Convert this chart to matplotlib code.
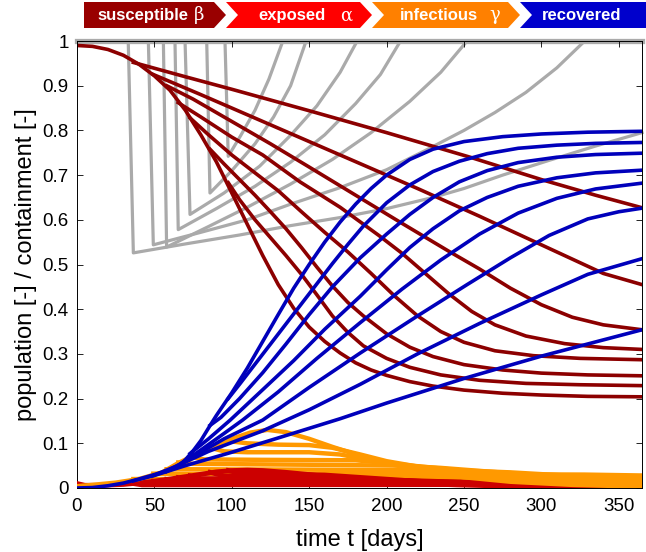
import matplotlib
matplotlib.use('Agg')
import matplotlib.pyplot as plt
from matplotlib.patches import Polygon

plt.rcParams['font.family'] = ['Liberation Sans', 'DejaVu Sans']

# scenarios: no containment, then containment starting at ~96, 84, 70, 63, 56, 46, 33 days
# gray = containment, dark red = susceptible, red = exposed, orange = infectious, blue = recovered

cont_t = [
    [0, 365],
    [0, 95.6, 97.7, 106, 115, 124, 133, 365],
    [0, 83.8, 85.9, 100, 115, 127, 138, 148, 365],
    [0, 69.8, 73, 95, 118, 138, 155, 170, 181, 365],
    [0, 63.3, 65.4, 90, 115, 138, 160, 180, 196, 209, 365],
    [0, 55.8, 57.9, 85, 110, 138, 165, 190, 215, 235, 252, 365],
    [0, 46.1, 49.3, 80, 110, 138, 170, 200, 225, 250, 270, 290, 310, 328, 365],
    [0, 33.1, 36.4, 70, 105, 138, 170, 200, 230, 250, 275, 305, 335, 365],
]
cont = [
    [1, 1],
    [1, 1, 0.742, 0.79, 0.845, 0.915, 1, 1],
    [1, 1, 0.66, 0.71, 0.77, 0.83, 0.9, 1, 1],
    [1, 1, 0.612, 0.66, 0.72, 0.789, 0.855, 0.93, 1, 1],
    [1, 1, 0.578, 0.625, 0.675, 0.729, 0.79, 0.86, 0.925, 1, 1],
    [1, 1, 0.539, 0.585, 0.628, 0.68, 0.735, 0.795, 0.865, 0.93, 1, 1],
    [1, 1, 0.544, 0.572, 0.60, 0.635, 0.672, 0.712, 0.755, 0.80, 0.84, 0.885, 0.94, 1, 1],
    [1, 1, 0.526, 0.546, 0.566, 0.587, 0.605, 0.625, 0.65, 0.67, 0.70, 0.733, 0.765, 0.795],
]

susc_t = [
    [0, 10, 20, 30, 40, 50, 60, 70, 80, 90, 100, 110, 120, 130, 140, 150, 160, 170, 180, 190, 200, 215, 230, 250, 275, 300, 330, 365],
    [97.7, 105, 115, 125, 135, 145, 155, 165, 175, 185, 200, 215, 235, 260, 290, 325, 365],
    [85.9, 95, 105, 115, 125, 135, 145, 155, 165, 175, 185, 200, 215, 230, 250, 275, 300, 330, 365],
    [73, 85, 100, 115, 130, 145, 160, 175, 190, 205, 220, 235, 250, 270, 295, 325, 365],
    [65.4, 80, 100, 120, 144, 170, 195, 210, 225, 240, 255, 270, 290, 315, 340, 365],
    [57.9, 75, 100, 125, 150, 180, 210, 240, 260, 280, 300, 320, 340, 365],
    [49.3, 80, 110, 144, 180, 220, 260, 290, 315, 340, 365],
    [36.4, 70, 100, 150, 200, 254, 300, 335, 365],
]
susc = [
    [0.99, 0.988, 0.981, 0.968, 0.948, 0.922, 0.89, 0.845, 0.79, 0.73, 0.66, 0.59, 0.52, 0.455, 0.402, 0.36, 0.328, 0.302, 0.28, 0.264, 0.252, 0.238, 0.228, 0.219, 0.212, 0.208, 0.205, 0.204],
    [0.683, 0.645, 0.6, 0.56, 0.52, 0.478, 0.432, 0.385, 0.348, 0.318, 0.29, 0.27, 0.253, 0.241, 0.234, 0.231, 0.229],
    [0.758, 0.725, 0.69, 0.655, 0.618, 0.58, 0.538, 0.494, 0.452, 0.415, 0.385, 0.345, 0.315, 0.294, 0.276, 0.264, 0.257, 0.253, 0.251],
    [0.828, 0.79, 0.745, 0.705, 0.665, 0.618, 0.572, 0.528, 0.48, 0.43, 0.385, 0.35, 0.326, 0.307, 0.296, 0.29, 0.287],
    [0.862, 0.83, 0.785, 0.745, 0.685, 0.628, 0.565, 0.525, 0.48, 0.435, 0.395, 0.365, 0.34, 0.323, 0.314, 0.31],
    [0.9, 0.87, 0.82, 0.77, 0.718, 0.655, 0.592, 0.53, 0.49, 0.447, 0.41, 0.382, 0.365, 0.354],
    [0.925, 0.88, 0.835, 0.784, 0.73, 0.67, 0.608, 0.56, 0.52, 0.48, 0.455],
    [0.952, 0.92, 0.892, 0.844, 0.795, 0.74, 0.69, 0.655, 0.627],
]

expo_t = [
    [0, 5, 15, 30, 45, 60, 75, 90, 100, 110, 120, 135, 150, 170, 190, 215, 245, 280, 320, 365],
    [97.7, 105, 130, 160, 190, 220, 260, 310, 365],
    [86, 95, 150, 180, 210, 250, 300, 365],
    [73, 80, 180, 210, 250, 300, 365],
    [65.4, 72, 210, 250, 300, 365],
    [57.9, 65, 250, 300, 365],
    [49.3, 55, 328, 365],
    [36.4, 42, 365],
]
expo = [
    [0.01, 0.006, 0.006, 0.008, 0.013, 0.02, 0.028, 0.036, 0.039, 0.04, 0.039, 0.035, 0.03, 0.022, 0.016, 0.011, 0.007, 0.004, 0.002, 0.001],
    [0.039, 0.033, 0.031, 0.029, 0.022, 0.015, 0.009, 0.005, 0.002],
    [0.035, 0.027, 0.026, 0.022, 0.016, 0.01, 0.006, 0.003],
    [0.027, 0.021, 0.02, 0.016, 0.012, 0.008, 0.004],
    [0.023, 0.018, 0.017, 0.013, 0.009, 0.005],
    [0.019, 0.014, 0.013, 0.01, 0.006],
    [0.015, 0.011, 0.01, 0.009],
    [0.01, 0.007, 0.008],
]

inf_t = [
    [0, 10, 25, 40, 55, 65, 75, 86, 100, 112, 123, 135, 150, 165, 183, 200, 225, 250, 280, 320, 365],
    [97.7, 110, 130, 150, 165, 183, 200, 225, 250, 280, 320, 365],
    [86, 95, 110, 150, 170, 190, 215, 245, 280, 320, 365],
    [73, 82, 120, 180, 200, 225, 255, 290, 330, 365],
    [65.4, 75, 150, 210, 235, 265, 300, 335, 365],
    [57.9, 70, 150, 250, 280, 310, 340, 365],
    [49.3, 150, 250, 328, 365],
    [36.4, 150, 250, 365],
]
inf = [
    [0.004, 0.007, 0.012, 0.02, 0.035, 0.055, 0.072, 0.09, 0.11, 0.124, 0.13, 0.125, 0.11, 0.092, 0.072, 0.055, 0.037, 0.024, 0.014, 0.007, 0.003],
    [0.105, 0.1, 0.097, 0.096, 0.09, 0.075, 0.06, 0.045, 0.033, 0.022, 0.012, 0.006],
    [0.09, 0.082, 0.08, 0.08, 0.075, 0.062, 0.048, 0.035, 0.024, 0.015, 0.009],
    [0.07, 0.064, 0.063, 0.062, 0.056, 0.047, 0.037, 0.027, 0.018, 0.012],
    [0.057, 0.054, 0.052, 0.05, 0.045, 0.037, 0.028, 0.02, 0.015],
    [0.042, 0.042, 0.041, 0.039, 0.035, 0.029, 0.023, 0.018],
    [0.032, 0.031, 0.031, 0.03, 0.028],
    [0.02, 0.021, 0.023, 0.025],
]

rec_t = [
    [0, 10, 20, 30, 40, 50, 60, 65, 70, 75, 80, 86, 90, 100, 110, 120, 130, 140, 150, 160, 170, 180, 190, 200, 215, 230, 250, 275, 300, 330, 365],
    [97.7, 105, 115, 125, 135, 145, 155, 165, 175, 185, 200, 215, 230, 247, 265, 285, 310, 335, 365],
    [85.9, 93, 105, 120, 135, 150, 165, 183, 200, 215, 230, 247, 265, 285, 310, 335, 365],
    [73, 85, 99, 120, 140, 160, 183, 200, 215, 230, 247, 265, 285, 310, 335, 365],
    [65.4, 80, 95, 107, 130, 155, 183, 210, 235, 260, 285, 310, 335, 365],
    [57.9, 75, 95, 120, 150, 183, 220, 252, 280, 305, 330, 350, 365],
    [49.3, 65, 85, 120, 150, 183, 220, 260, 300, 330, 365],
    [36.4, 50, 70, 100, 130, 170, 200, 250, 300, 365],
]
rec = [
    [0, 0.001, 0.005, 0.011, 0.02, 0.03, 0.04, 0.048, 0.063, 0.083, 0.106, 0.14, 0.162, 0.213, 0.268, 0.328, 0.388, 0.447, 0.5, 0.55, 0.595, 0.635, 0.67, 0.70, 0.735, 0.758, 0.775, 0.786, 0.792, 0.796, 0.798],
    [0.2, 0.232, 0.277, 0.322, 0.367, 0.412, 0.457, 0.502, 0.545, 0.586, 0.638, 0.678, 0.708, 0.731, 0.748, 0.76, 0.767, 0.771, 0.773],
    [0.14, 0.158, 0.2, 0.258, 0.322, 0.388, 0.45, 0.515, 0.568, 0.612, 0.65, 0.685, 0.71, 0.728, 0.74, 0.746, 0.749],
    [0.077, 0.11, 0.152, 0.22, 0.285, 0.355, 0.429, 0.488, 0.538, 0.58, 0.62, 0.65, 0.675, 0.694, 0.705, 0.711],
    [0.05, 0.085, 0.122, 0.152, 0.215, 0.29, 0.37, 0.445, 0.51, 0.568, 0.615, 0.648, 0.669, 0.682],
    [0.037, 0.07, 0.11, 0.152, 0.225, 0.302, 0.385, 0.455, 0.515, 0.565, 0.602, 0.618, 0.626],
    [0.028, 0.05, 0.082, 0.128, 0.175, 0.232, 0.3, 0.368, 0.432, 0.478, 0.513],
    [0.016, 0.028, 0.05, 0.08, 0.112, 0.155, 0.19, 0.245, 0.295, 0.354],
]

col_cont = '#aaaaaa'
col_s = '#8c0000'
col_e = '#cc0000'
col_i = '#ff9900'
col_r = '#0000bb'

fig = plt.figure(figsize=(6.46, 5.52), dpi=100)
ax = fig.add_axes([77 / 646, 64 / 552, 565 / 646, 447 / 552])

for k, (t, v) in enumerate(zip(cont_t, cont)):
    # the flat line at 1 shows up as a heavier band in the original
    ax.plot(t, v, color=col_cont, lw=3.8 if k == 0 else 2.3, clip_on=False, zorder=1)
for t, v in zip(susc_t, susc):
    ax.plot(t, v, color=col_s, lw=2.6, zorder=2)
# exposed and infectious drawn scenario by scenario, earliest containment first
for k in range(len(expo_t) - 1, -1, -1):
    ax.plot(expo_t[k], expo[k], color=col_e, lw=3.5, zorder=3)
    ax.plot(inf_t[k], inf[k], color=col_i, lw=3.2, zorder=3)
for t, v in zip(rec_t, rec):
    ax.plot(t, v, color=col_r, lw=2.6, zorder=4)

ax.set_xlim(0, 365)
ax.set_ylim(0, 1)
ax.set_xticks(range(0, 351, 50))
ax.set_yticks([i / 10 for i in range(11)])
ax.set_yticklabels(['0', '0.1', '0.2', '0.3', '0.4', '0.5', '0.6', '0.7', '0.8', '0.9', '1'])
ax.tick_params(direction='in', top=True, right=True, length=4, width=0.6, labelsize=13.5)
ax.tick_params(axis='x', pad=7)
ax.tick_params(axis='y', pad=6)
for s in ax.spines.values():
    s.set_linewidth(0.7)
ax.set_xlabel('time t [days]', fontsize=17, labelpad=10)
ax.set_ylabel('population [-] / containment [-]', fontsize=17, labelpad=4)

# header with chevron labels
bax = fig.add_axes([0, 0, 1, 1], facecolor='none')
bax.set_xlim(0, 646)
bax.set_ylim(552, 0)
bax.axis('off')
top, mid, bot = 2, 15, 28
blocks = [
    (84, 214, 0, '#990000', 'susceptible', 143),
    (226, 360, 12, '#ff0000', 'exposed', 292),
    (372, 508, 12, '#ff8000', 'infectious', 439),
    (520, 646, 12, '#0000cc', 'recovered', 582),
]
for x0, x1, notch, c, name, cx in blocks:
    tip = x1 + 12 if x1 < 646 else x1
    pts = [(x0, top), (x1, top), (tip, mid), (x1, bot), (x0, bot), (x0 + notch, mid)]
    bax.add_patch(Polygon(pts, closed=True, facecolor=c, edgecolor='none'))
    bax.text(cx, mid + 0.5, name, color='white', fontsize=12, fontweight='bold',
             ha='center', va='center')

bax.text(199, 15.5, '\u03b2', color='white', fontsize=13, ha='center', va='center', family='DejaVu Serif')
bax.text(346, 15.5, '\u03b1', color='white', fontsize=13, ha='center', va='center', family='DejaVu Serif')
bax.text(495, 15.5, '\u03b3', color='white', fontsize=13, ha='center', va='center', family='DejaVu Serif')

fig.savefig('out.png', dpi=100)
